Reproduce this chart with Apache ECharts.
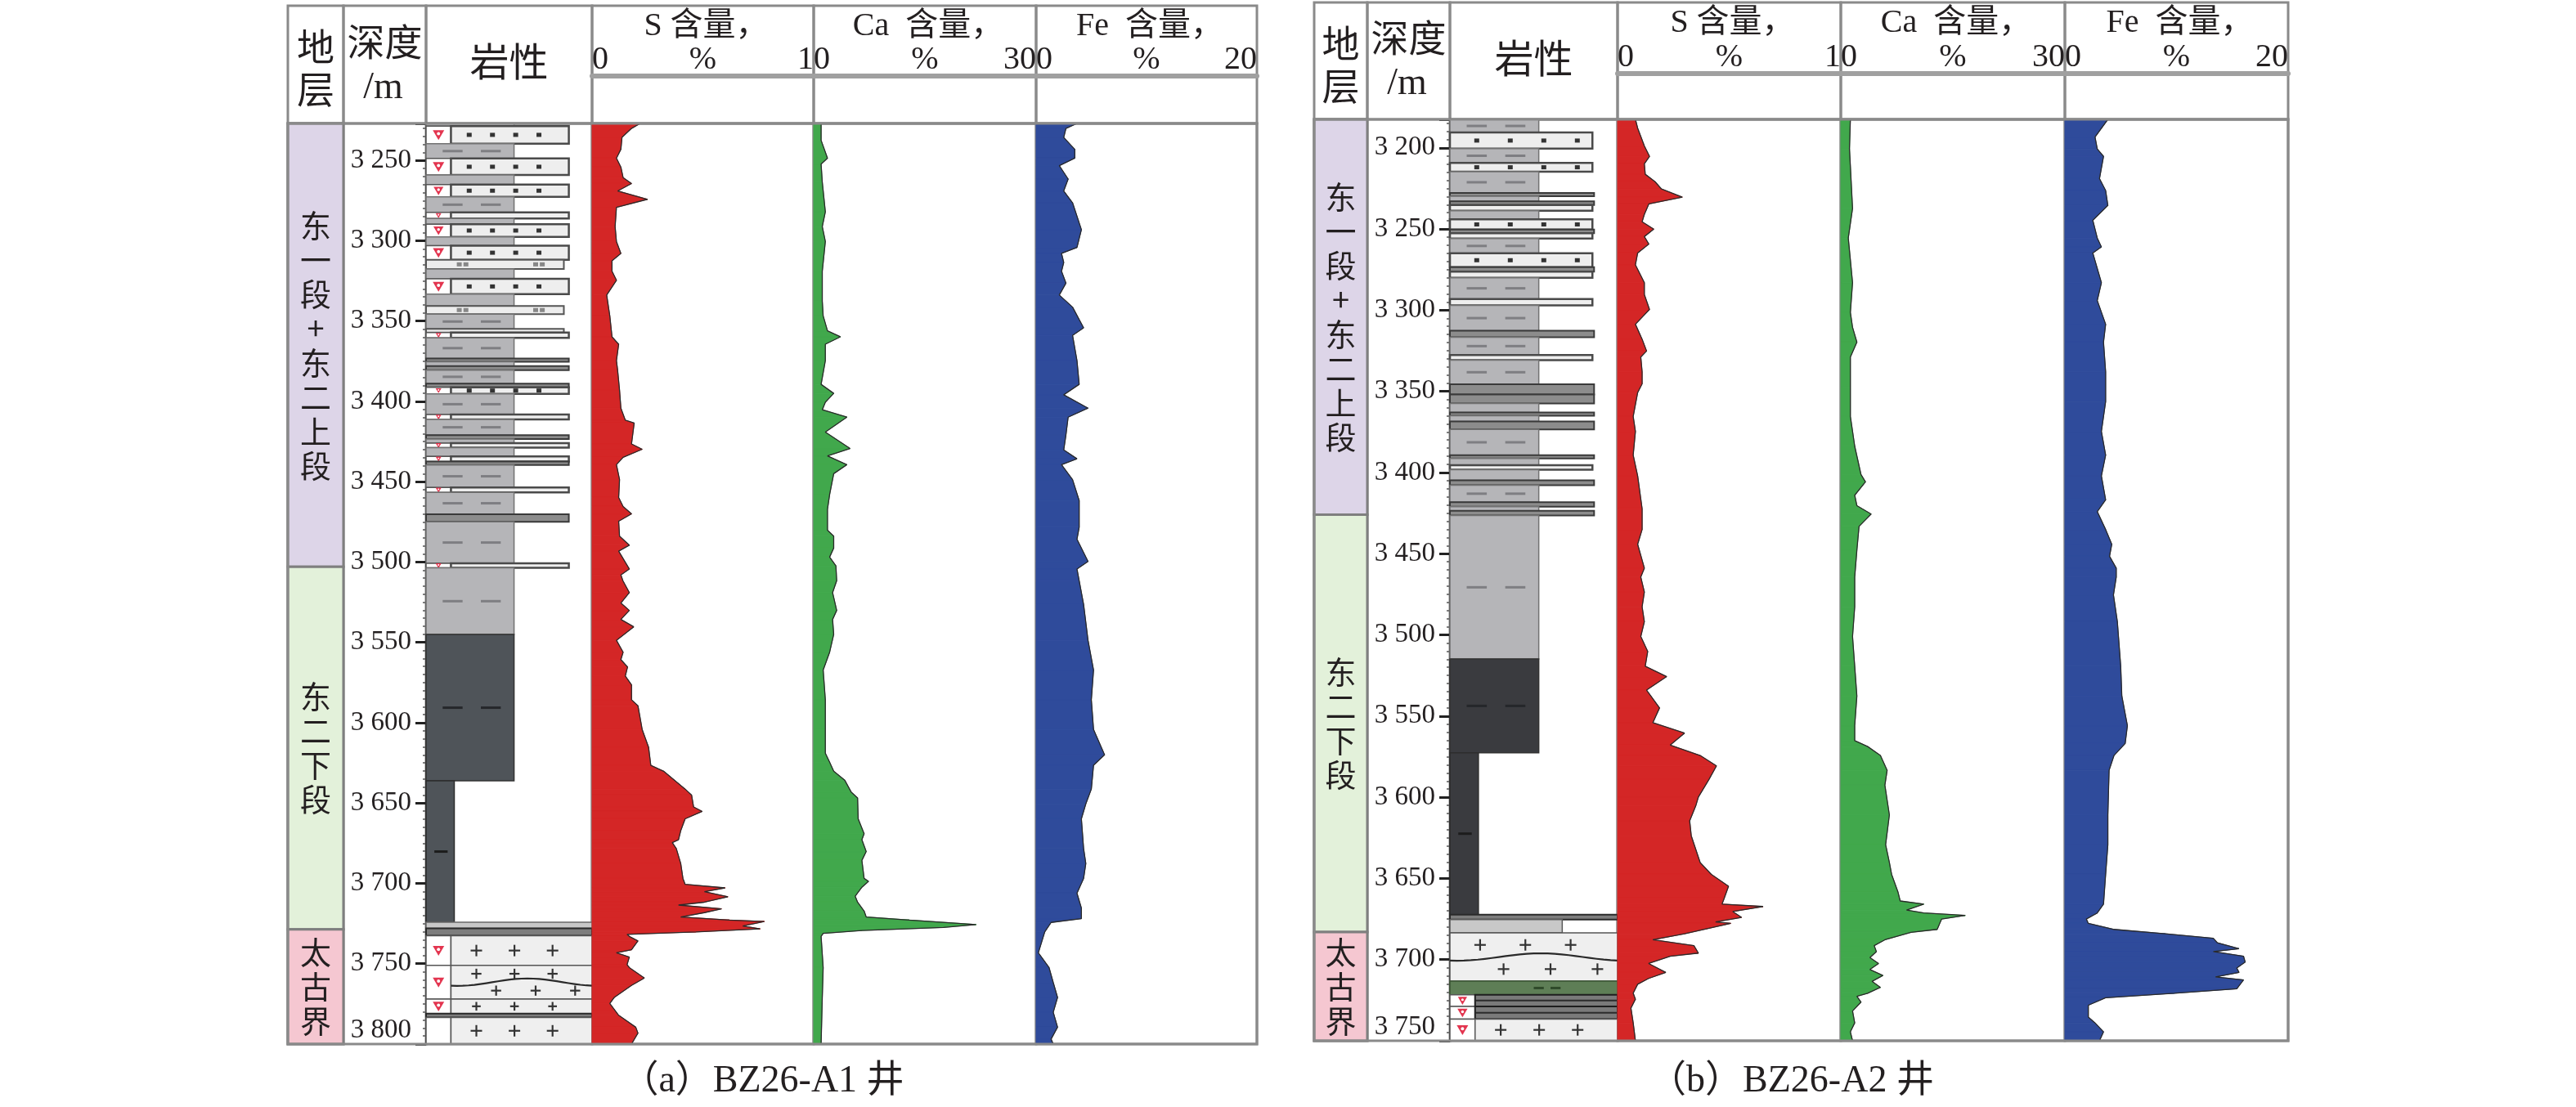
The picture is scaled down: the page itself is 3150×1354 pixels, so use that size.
<!DOCTYPE html>
<html><head><meta charset="utf-8">
<script src="https://cdn.jsdelivr.net/npm/echarts@6/dist/echarts.min.js"></script>
<style>html,body{margin:0;padding:0;background:#fff}#c{width:3150px;height:1354px}</style>
</head><body><div id="c"></div>
<script>
// ---------------- DATA ----------------
const CAPTIONS = ['（a）BZ26-A1 井', '（b）BZ26-A2 井'];
const HEAD_STRAT = '地\n层';
const HEAD_DEPTH = '深度';
const HEAD_UNIT = '/m';
const HEAD_LITHO = '岩性';
const CURVE_TITLES = ['S 含量，', 'Ca  含量，', 'Fe  含量，'];
const CURVE_MAX = [1, 30, 20];
const CURVE_UNIT = '%';

const A1_RANGE = [3227, 3800];
const A2_RANGE = [3182.5, 3750];

const A1_STRAT = [[3227, 3503, '东一段+东二上段'], [3503, 3728.6, '东二下段'], [3728.6, 3800, '太古界']];
const A2_STRAT = [[3182.5, 3426, '东一段+东二上段'], [3426, 3683, '东二下段'], [3683, 3750, '太古界']];

const A1_S_DEPTH = [3227,3230.1,3235.7,3243.1,3248.6,3254.2,3260.7,3264.4,3269,3274.2,3279.2,3291.2,3300.5,3307.9,3312.5,3319,3324.6,3333.8,3346.8,3359.8,3364.4,3374.6,3380.2,3393.1,3404.2,3411.7,3413.5,3426.5,3429.8,3434.8,3439.4,3448.7,3459.8,3465.4,3470,3474.6,3483.9,3489.5,3493.2,3504.3,3508,3511.6,3519,3525.5,3530.1,3535.7,3540.3,3548.7,3556.1,3560.7,3565.3,3570.9,3576.4,3585.7,3589.4,3604.2,3615.3,3626.5,3630.2,3641.3,3645,3652.4,3655.2,3659.8,3667.2,3672.8,3674.6,3678.3,3687.6,3696.9,3700.6,3702.8,3705.2,3708.3,3711.7,3713.5,3715.8,3718.2,3720.9,3722.8,3723.7,3726.5,3728.3,3730.2,3731.7,3733,3735.8,3741.3,3743.2,3745.9,3750.6,3752.4,3758.9,3763.5,3771,3774.7,3778.4,3782.1,3789.5,3793.2,3800];
const A1_S = [0.217,0.178,0.135,0.13,0.11,0.13,0.14,0.178,0.116,0.25,0.11,0.104,0.11,0.13,0.09,0.09,0.11,0.066,0.08,0.09,0.12,0.11,0.115,0.124,0.13,0.15,0.19,0.178,0.226,0.14,0.11,0.124,0.12,0.14,0.178,0.12,0.124,0.168,0.12,0.168,0.13,0.139,0.168,0.13,0.168,0.13,0.188,0.11,0.14,0.13,0.16,0.15,0.178,0.178,0.207,0.226,0.255,0.265,0.323,0.42,0.449,0.458,0.497,0.42,0.40,0.39,0.362,0.38,0.40,0.41,0.42,0.60,0.507,0.613,0.507,0.39,0.584,0.507,0.40,0.62,0.777,0.68,0.758,0.468,0.158,0.168,0.207,0.178,0.11,0.168,0.158,0.168,0.236,0.178,0.10,0.08,0.10,0.12,0.197,0.207,0.178];

const A1_CA_DEPTH = [3227,3237.5,3248.6,3252.3,3263.5,3282,3291.2,3300.5,3319,3337.6,3346.8,3356.1,3359.8,3364.4,3374.6,3389.4,3395,3400.5,3405.2,3409.8,3419.1,3429.3,3433.9,3439.4,3445,3458,3467.2,3480.2,3483.9,3491.3,3496.9,3502.4,3511.6,3519,3530.1,3535.7,3545,3556.1,3567.2,3585.7,3604.2,3619,3624.6,3630.2,3635.7,3643.1,3646.8,3659.8,3669.1,3672.8,3680.2,3685.7,3696.9,3698.7,3702.4,3708,3711.7,3717.2,3720.9,3722.8,3725.6,3727.4,3729.3,3731.1,3733,3752.4,3771,3800];
const A1_CA = [1.0,1.0,1.86,1.0,1.16,1.57,1.16,1.57,1.16,1.16,1.28,1.86,3.6,1.57,1.57,1.0,2.7,1.57,1.16,4.47,1.57,4.9,1.86,4.47,2.7,2.15,1.86,1.86,2.7,2.7,2.15,3.0,3.1,2.55,3.1,2.55,2.7,2.15,1.28,1.57,1.57,1.57,2.15,2.7,4.18,5.05,5.92,6.0,6.8,6.5,7.08,6.5,6.8,7.4,6.5,5.6,5.92,6.8,7.08,12.9,21.9,17.5,6.5,1.28,1.0,1.28,1.16,1.0];

const A1_FE_DEPTH = [3227,3230.1,3235.7,3243.1,3248.6,3253.3,3261.6,3269,3276.4,3293.1,3304.2,3307.9,3313.5,3319,3326.4,3333.8,3341.3,3354.2,3358.9,3374.6,3389.4,3395.9,3404.2,3409.8,3420.9,3430.2,3435.7,3439.4,3448.7,3461.7,3478.3,3485.8,3499.6,3504.3,3511.6,3526.4,3548.7,3567.2,3585.7,3604.2,3620,3626.5,3641.3,3650.5,3659.8,3678.3,3687.6,3696.9,3706.1,3715.4,3721.9,3724.3,3730.2,3743.2,3752.4,3761.7,3771,3780.2,3789.5,3796.9,3800];
const A1_FE = [3.7,2.7,2.5,3.5,3.5,2.1,2.9,2.5,3.3,4.1,3.7,2.3,2.5,2.3,2.7,2.1,3.3,4.3,3.3,3.7,3.9,2.5,4.7,2.9,2.7,2.5,3.7,2.3,3.3,3.9,3.9,3.7,4.7,3.7,3.9,4.3,4.7,5.2,5.0,5.2,6.2,5.2,5.0,4.5,4.1,4.3,4.5,4.3,3.7,4.1,4.1,1.36,0.78,0.2,1.17,1.55,1.94,1.55,1.94,1.36,1.55];

const A2_S_DEPTH = [3182.5,3187.9,3198.9,3205.3,3209.9,3216.3,3220.9,3225.4,3230.4,3234.6,3241,3245.6,3250.1,3254.7,3259.3,3264.8,3272.1,3283.1,3290.4,3299.6,3308.7,3317.9,3325.2,3328.9,3338,3345.4,3350.8,3365.5,3374.7,3389.3,3402.1,3422.3,3435.1,3444.2,3458.9,3464.4,3473.6,3482.7,3491.9,3501,3510.2,3519.3,3525.7,3534,3545,3554.1,3560.5,3567.9,3574.3,3580.7,3588.9,3599.9,3605.4,3614.5,3623.7,3640.2,3647.5,3654.8,3662.1,3665.8,3667.3,3670.4,3674,3676.8,3677.7,3684.1,3687.8,3691.4,3696,3697.9,3702.4,3707.9,3711.6,3715.2,3720.7,3724.4,3729.9,3739,3750];
const A2_S = [0.08,0.09,0.12,0.143,0.12,0.124,0.168,0.197,0.29,0.14,0.12,0.11,0.162,0.12,0.14,0.09,0.08,0.12,0.12,0.143,0.08,0.11,0.13,0.104,0.11,0.11,0.09,0.07,0.08,0.07,0.09,0.11,0.11,0.09,0.12,0.104,0.12,0.11,0.12,0.104,0.135,0.124,0.22,0.13,0.188,0.158,0.30,0.236,0.37,0.443,0.41,0.362,0.35,0.323,0.33,0.37,0.42,0.497,0.478,0.468,0.652,0.516,0.555,0.439,0.507,0.30,0.158,0.342,0.362,0.236,0.139,0.216,0.139,0.09,0.07,0.08,0.06,0.07,0.08];

const A2_CA_DEPTH = [3182.5,3200.7,3237.3,3255.6,3283.1,3301.4,3310.6,3319.7,3328.9,3347.2,3365.5,3383.8,3401.2,3405.8,3414,3420.4,3425.6,3433.2,3447.9,3464.4,3482.7,3501,3519.3,3537.6,3555.9,3565.1,3568.8,3574.3,3583.4,3592.6,3610.9,3629.2,3640.2,3647.5,3658.5,3663.9,3665.8,3669.5,3671.3,3672.8,3675,3681.4,3683.2,3687.8,3691.4,3695.1,3698.8,3702.4,3706.1,3709.8,3713.4,3717.1,3720.7,3722.6,3726.2,3731.7,3739,3744.5,3750];
const A2_CA = [1.28,1.16,1.57,1.0,1.57,1.28,1.57,2.15,1.28,1.28,1.28,1.86,2.7,3.3,1.86,2.15,4.06,2.44,2.15,1.86,1.86,1.57,1.86,2.15,1.86,1.86,3.6,5.3,6.2,5.9,6.5,6.0,6.5,6.8,7.66,7.95,11.1,8.8,11.1,16.66,13.5,12.9,9.4,5.9,4.47,4.76,3.9,5.05,3.9,5.63,4.18,5.3,3.6,2.15,2.7,1.57,1.86,1.28,1.57];

const A2_FE_DEPTH = [3182.5,3193.4,3200.7,3205.3,3219,3226.3,3235.5,3244.7,3255.6,3261.1,3264.8,3283.1,3294.1,3308.7,3319.7,3338,3356.3,3374.7,3389.3,3402.1,3416.8,3424.1,3435.1,3444.2,3451.6,3458.9,3464.4,3475.4,3491.9,3519.3,3537.6,3555.9,3566.9,3574.3,3583.4,3610.9,3629.2,3647.5,3665.8,3671.3,3675,3677.7,3681.4,3684.1,3686.9,3689.6,3693.3,3695.1,3697.9,3701.5,3705.2,3707.9,3710.7,3712.5,3718,3720.7,3723.5,3728.1,3735.4,3739,3744.5,3750];
const A2_FE = [3.85,2.7,2.9,3.46,3.1,3.65,3.85,2.5,2.9,3.27,2.5,3.27,2.9,3.65,3.46,3.65,3.65,3.27,3.65,3.27,3.65,2.9,3.65,4.2,4.0,4.6,4.6,4.35,4.7,5.0,5.1,5.6,5.4,4.4,3.96,3.85,3.85,3.65,3.46,2.9,1.92,2.1,4.4,9.0,13.3,13.65,15.6,13.3,16.0,16.15,15.4,15.6,13.5,16.0,15.4,9.8,3.65,2.1,2.1,2.7,3.46,3.1];

const A1_LITHO = [
[3227,3228.6,'mud'],[3228.6,3239.6,'sandO'],[3239.6,3248.8,'mud'],[3248.8,3259.1,'sandO'],[3259.1,3265,'mud'],
[3265,3272.7,'sandO'],[3272.7,3282.4,'mud'],[3282.4,3286.1,'sandO'],[3286.1,3289.7,'mud'],[3289.7,3297.6,'sandO'],
[3297.6,3303.1,'mud'],[3303.1,3311.8,'sandO'],[3311.8,3317.6,'silt'],[3317.6,3323.7,'mud'],[3323.7,3333.2,'sandO'],
[3333.2,3340.6,'mud'],[3340.6,3345.7,'silt'],[3345.7,3354.9,'mud'],[3354.9,3357.2,'silt'],[3357.2,3360.4,'sandO'],
[3360.4,3373.3,'mud'],[3373.3,3375.3,'dline'],[3375.3,3378,'mud'],[3378,3380.5,'dline'],[3380.5,3388.9,'mud'],
[3388.9,3391.2,'dline'],[3391.2,3395.3,'sandO'],[3395.3,3408.2,'mud'],[3408.2,3411.2,'sandO'],[3411.2,3421,'mud'],
[3421,3423.4,'dline'],[3423.4,3426,'mud'],[3426,3428.8,'sandO'],[3428.8,3434.2,'mud'],[3434.2,3437.4,'sandO'],
[3437.4,3439.6,'dline'],[3439.6,3453.6,'mud'],[3453.6,3456.6,'sandO'],[3456.6,3470.2,'mud'],[3470.2,3474.9,'dline'],
[3474.9,3500.8,'mud'],[3500.8,3503.6,'sandO'],[3503.6,3545.1,'mud'],[3545.1,3636.2,'dmud'],[3636.2,3724.2,'dnar'],
[3724.2,3728,'gline'],[3728,3732.6,'dlineF'],[3732.6,3751,'granO'],[3751,3772,'granO'],[3772,3781,'granO'],
[3781,3783.5,'dlineF'],[3783.5,3800,'granS']
];
const A2_LITHO = [
[3182.5,3190.6,'mud'],[3190.6,3200.5,'sand'],[3200.5,3209.3,'mud'],[3209.3,3214.7,'sand'],[3214.7,3227.8,'mud'],
[3227.8,3229.8,'dline'],[3229.8,3233,'mud'],[3233,3235.3,'dline'],[3235.3,3238.8,'sand'],[3238.8,3244,'mud'],
[3244,3250.4,'sand'],[3250.4,3252.6,'dline'],[3252.6,3255.9,'sand'],[3255.9,3265,'mud'],[3265,3273.5,'sand'],
[3273.5,3276.3,'dline'],[3276.3,3280,'sand'],[3280,3293.1,'mud'],[3293.1,3297.1,'sand'],[3297.1,3312.7,'mud'],
[3312.7,3316.7,'dline'],[3316.7,3327.6,'mud'],[3327.6,3330.8,'sand'],[3330.8,3345.7,'mud'],[3345.7,3352,'dline'],
[3352,3357.5,'dline'],[3357.5,3363,'mud'],[3363,3365,'dline'],[3365,3368.5,'mud'],[3368.5,3373.5,'dline'],
[3373.5,3389.3,'mud'],[3389.3,3391.3,'dline'],[3391.3,3395.5,'mud'],[3395.5,3398.3,'sand'],[3398.3,3404.8,'mud'],
[3404.8,3407.8,'dline'],[3407.8,3418.3,'mud'],[3418.3,3421,'dline'],[3421,3423.6,'mud'],[3423.6,3426.5,'dline'],
[3426.5,3514.9,'mud'],[3514.9,3572.6,'dmud'],[3572.6,3672.3,'dnar'],[3672.3,3675.3,'dlineF'],[3675.3,3683.5,'gshort'],
[3683.5,3713.3,'gran'],[3713.3,3721.7,'green'],[3721.7,3728.8,'dlineO'],[3728.8,3736.6,'dlineO'],[3736.6,3750,'granO']
];

// ---------------- STYLE / LAYOUT ----------------
const SERIF = "'Liberation Serif','Noto Sans CJK SC',serif";
const CJK = "'Noto Sans CJK SC',sans-serif";
const TXT = '#231f20';
const FRAME = '#8a8a8a';
const STRAT_COLORS = {'东一段+东二上段':'#ddd5e8','东二下段':'#e3f1da','太古界':'#f5c7d1'};
const CURVE_COLORS = ['#d42626', '#41a84c', '#2f4b9b'];

const PANELS = [
  {cols:[352,420,521,724,995,1267,1537], top:7, hb:151, bottom:1277, bar:93, range:A1_RANGE, strat:A1_STRAT, litho:A1_LITHO,
   curves:[[A1_S_DEPTH,A1_S],[A1_CA_DEPTH,A1_CA],[A1_FE_DEPTH,A1_FE]], dark:'#4f5459', caption:CAPTIONS[0]},
  {cols:[1607,1672,1773,1978,2251,2525,2798], top:3, hb:146, bottom:1273, bar:90, range:A2_RANGE, strat:A2_STRAT, litho:A2_LITHO,
   curves:[[A2_S_DEPTH,A2_S],[A2_CA_DEPTH,A2_CA],[A2_FE_DEPTH,A2_FE]], dark:'#3a3b3f', caption:CAPTIONS[1]}
];

function fmtDepth(v){ if (Math.abs(v % 50) > 1e-6) return ''; const s = String(Math.round(v)); return s.slice(0,1) + ' ' + s.slice(1); }

function oilSymbol(cx, cy, s){
  return [
    {type:'polygon', shape:{points:[[cx-s,cy-s*0.8],[cx+s,cy-s*0.8],[cx,cy+s*0.9]]}, style:{fill:'#e3354f'}},
    {type:'circle', shape:{cx:cx, cy:cy-s*0.2, r:s*0.28}, style:{fill:'#ffffff'}}
  ];
}

function lithoRender(layers, dark){
  return function(params, api){
    const L = layers[params.dataIndex];
    const t = L[2];
    const p0 = api.coord([0, api.value(0)]);
    const p1 = api.coord([1, api.value(1)]);
    const X = f => p0[0] + (p1[0]-p0[0]) * f;
    const y0 = p0[1], y1 = p1[1], h = y1 - y0, ym = (y0 + y1) / 2;
    const ch = [];
    const rect = (f0, f1, fill, stroke, lw) => ch.push({type:'rect', shape:{x:X(f0), y:y0, width:X(f1)-X(f0), height:h}, style:{fill:fill, stroke:stroke, lineWidth:lw}});
    const dash = (f0, f1, color, lw) => ch.push({type:'line', shape:{x1:X(f0), y1:ym, x2:X(f1), y2:ym}, style:{stroke:color, lineWidth:lw}});
    const dots = (fs, color) => { if (h < 8) return; fs.forEach(f => ch.push({type:'rect', shape:{x:X(f)-3, y:ym-2.5, width:6, height:5}, style:{fill:color}})); };
    const subcol = (sym) => { rect(0, 0.15, '#ffffff', '#555', 1.5); if (sym) oilSymbol(X(0.075), ym, Math.min(7, Math.max(3.5, h*0.4))).forEach(e => ch.push(e)); };
    const granite = (f0, waves) => {
      rect(f0, 1, '#efefef', '#555', 1.5);
      const xa = X(f0), xb = X(1), w = xb - xa;
      const n = Math.max(1, Math.round(h / 26));
      const sp = h / n;
      for (let k = 0; k < n; k++) {
        if (waves && k > 0) {
          const yl = y0 + k * sp, pts = [];
          for (let j = 0; j <= 24; j++) { const x = xa + w * j / 24; pts.push([x, yl + 4.5 * Math.sin(2 * Math.PI * j / 24 + k * 1.3)]); }
          ch.push({type:'polyline', shape:{points:pts}, style:{stroke:'#2a2a2a', lineWidth:2.2, fill:null}});
        }
        const yc = y0 + (k + 0.5) * sp;
        const fr = (k % 2 === 0) ? [0.18, 0.45, 0.72] : [0.32, 0.6, 0.88];
        const cs = Math.min(7, sp * 0.3);
        fr.forEach(f => {
          const cx = xa + w * f;
          ch.push({type:'line', shape:{x1:cx-cs, y1:yc, x2:cx+cs, y2:yc}, style:{stroke:'#333', lineWidth:2.2}});
          ch.push({type:'line', shape:{x1:cx, y1:yc-cs, x2:cx, y2:yc+cs}, style:{stroke:'#333', lineWidth:2.2}});
        });
      }
    };
    switch (t) {
      case 'mud':
        rect(0, 0.53, '#b5b5b8', '#727272', 1.5);
        if (h > 15) { dash(0.10, 0.22, '#7e7e82', 3); dash(0.33, 0.45, '#7e7e82', 3); }
        break;
      case 'dmud':
        rect(0, 0.53, dark, '#333', 1.5);
        dash(0.10, 0.22, '#25272a', 3); dash(0.33, 0.45, '#25272a', 3);
        break;
      case 'dnar':
        rect(0, 0.17, dark, '#2d2d2d', 1.5);
        dash(0.05, 0.13, '#1c1c1c', 3);
        break;
      case 'sandO':
        subcol(true);
        rect(0.15, 0.86, '#eeeeee', '#4a4a4a', 2.5);
        dots([0.26, 0.40, 0.54, 0.68], '#333');
        break;
      case 'sand':
        rect(0, 0.85, '#eeeeee', '#4a4a4a', 2.5);
        dots([0.16, 0.36, 0.56, 0.76], '#333');
        break;
      case 'silt':
        rect(0, 0.83, '#ededed', '#555', 2);
        dots([0.20, 0.24, 0.66, 0.70], '#888');
        break;
      case 'dline':
        rect(0, 0.86, '#8c8c8c', '#3a3a3a', 2);
        break;
      case 'dlineF':
        rect(0, 1, '#7d7d7d', '#2a2a2a', 2);
        break;
      case 'dlineO':
        subcol(true);
        rect(0.15, 1, '#7a7a7a', '#1e1e1e', 2);
        dash(0.15, 1, '#2b2b2b', 2);
        break;
      case 'gline':
        rect(0, 1, '#c8c8c8', '#6a6a6a', 1.5);
        break;
      case 'gshort':
        rect(0, 0.67, '#c8c8c8', '#5a5a5a', 1.5);
        break;
      case 'gran':
        granite(0, true);
        break;
      case 'granO':
        subcol(true); granite(0.15, true);
        break;
      case 'granS':
        subcol(false); granite(0.15, false);
        break;
      case 'green':
        rect(0, 1, '#5e7e56', '#3b5535', 1.5);
        dash(0.5, 0.56, '#2f4a2a', 3); dash(0.6, 0.66, '#2f4a2a', 3);
        break;
    }
    return {type:'group', children:ch};
  };
}

function stratRender(list){
  return function(params, api){
    const s = list[params.dataIndex];
    const p0 = api.coord([0, api.value(0)]);
    const p1 = api.coord([1, api.value(1)]);
    return {type:'group', children:[
      {type:'rect', shape:{x:p0[0], y:p0[1], width:p1[0]-p0[0], height:p1[1]-p0[1]}, style:{fill:STRAT_COLORS[s[2]], stroke:'#7f7f7f', lineWidth:3}},
      {type:'text', style:{text:s[2].split('').join('\n'), x:(p0[0]+p1[0])/2, y:(p0[1]+p1[1])/2, align:'center', verticalAlign:'middle', fontSize:38, fontFamily:CJK, lineHeight:42, fill:TXT}}
    ]};
  };
}

function fillRender(depths, vals, color){
  return function(params, api){
    const i = params.dataIndex;
    if (i >= depths.length - 1) return null;
    const a = api.coord([0, depths[i]]), b = api.coord([vals[i], depths[i]]);
    const c = api.coord([vals[i+1], depths[i+1]]), d = api.coord([0, depths[i+1]]);
    return {type:'polygon', shape:{points:[a,b,c,d]}, style:{fill:color, stroke:color, lineWidth:1}};
  };
}

// ---------------- BUILD ----------------
const option = {animation:false, backgroundColor:'#ffffff', grid:[], xAxis:[], yAxis:[], series:[], graphic:[]};

PANELS.forEach(P => {
  const c = P.cols;
  const g0 = option.grid.length;
  for (let k = 0; k < 5; k++) {
    const l = k === 0 ? c[0] : c[k+1];
    const r = k === 0 ? c[1] : c[k+2];
    option.grid.push({left:l, top:P.hb, width:r-l, height:P.bottom-P.hb, show:true, borderColor:FRAME, borderWidth:3,
      backgroundColor:'rgba(0,0,0,0)', containLabel:false, outerBoundsMode:'none'});
    // x axes
    if (k < 2) {
      option.xAxis.push({gridIndex:g0+k, type:'value', min:0, max:1, show:false});
    } else {
      const mx = CURVE_MAX[k-2];
      option.xAxis.push({gridIndex:g0+k, type:'value', min:0, max:mx, interval:mx, position:'top', offset:P.hb-P.bar,
        axisLine:{show:true, lineStyle:{color:'#a0a0a0', width:6}}, axisTick:{show:false}, splitLine:{show:false},
        axisLabel:{show:true, margin:0, fontSize:40, fontFamily:SERIF, color:TXT, alignMinLabel:'left', alignMaxLabel:'right'},
        name:CURVE_UNIT, nameLocation:'middle', nameGap:0, nameMoveOverlap:false,
        nameTextStyle:{fontSize:40, fontFamily:SERIF, color:TXT}});
    }
    // y axes
    const y = {gridIndex:g0+k, type:'value', inverse:true, min:P.range[0], max:P.range[1], splitNumber:11, splitLine:{show:false}};
    if (k === 1) {
      Object.assign(y, {show:true, position:'left',
        axisLine:{show:true, onZero:false, lineStyle:{color:'#3a3a3a', width:3}},
        axisTick:{show:true, inside:false, length:13, lineStyle:{color:'#222', width:3}},
        minorTick:{show:true, splitNumber:10, length:4, lineStyle:{color:'#555', width:1.5}},
        axisLabel:{show:true, margin:18, fontSize:33, fontFamily:SERIF, color:TXT, formatter:fmtDepth,
          showMinLabel:false, verticalAlignMaxLabel:'bottom'}});
    } else {
      y.show = false;
    }
    option.yAxis.push(y);
  }
  // series
  option.series.push({type:'custom', coordinateSystem:'cartesian2d', xAxisIndex:g0, yAxisIndex:g0,
    data:P.strat.map(s => [s[0], s[1]]), encode:{x:-1, y:[0,1]}, renderItem:stratRender(P.strat), silent:true});
  option.series.push({type:'custom', coordinateSystem:'cartesian2d', xAxisIndex:g0+1, yAxisIndex:g0+1,
    data:P.litho.map(s => [s[0], s[1]]), encode:{x:-1, y:[0,1]}, renderItem:lithoRender(P.litho, P.dark), silent:true});
  P.curves.forEach((cv, j) => {
    const depths = cv[0], vals = cv[1];
    const pts = depths.map((d, i) => [vals[i], d]);
    option.series.push({type:'custom', coordinateSystem:'cartesian2d', xAxisIndex:g0+2+j, yAxisIndex:g0+2+j,
      data:pts, renderItem:fillRender(depths, vals, CURVE_COLORS[j]), silent:true, z:2});
    option.series.push({type:'line', xAxisIndex:g0+2+j, yAxisIndex:g0+2+j, data:pts, symbol:'none', silent:true, z:3,
      lineStyle:{color:'#2a2a2a', width:1.3}});
  });

  // header frame cells
  for (let i = 0; i < 6; i++) {
    option.graphic.push({type:'rect', shape:{x:c[i], y:P.top, width:c[i+1]-c[i], height:P.hb-P.top},
      style:{fill:'none', stroke:FRAME, lineWidth:3}, silent:true});
  }
  option.graphic.push({type:'rect', shape:{x:c[0], y:P.hb, width:c[6]-c[0], height:P.bottom-P.hb},
    style:{fill:'none', stroke:FRAME, lineWidth:3}, silent:true, z:10});
  const hm = (P.top + P.hb) / 2, hh = P.hb - P.top;
  const T = (text, x, y, size, fam) => option.graphic.push({type:'text', x:x, y:y, silent:true,
    style:{text:text, align:'center', verticalAlign:'middle', fontSize:size, fontFamily:fam, fill:TXT, lineHeight:size+6}});
  T(HEAD_STRAT, (c[0]+c[1])/2, hm + 4, 46, CJK);
  T(HEAD_DEPTH, (c[1]+c[2])/2, P.top + 0.30*hh, 46, CJK);
  T(HEAD_UNIT, (c[1]+c[2])/2 - 2, P.top + 0.70*hh, 46, SERIF);
  T(HEAD_LITHO, (c[2]+c[3])/2, hm - 4, 48, CJK);
  for (let j = 0; j < 3; j++) T(CURVE_TITLES[j], (c[j+3]+c[j+4])/2 + 4, P.top + 25, 40, SERIF);
  T(P.caption, (c[0]+c[6])/2 - 12, 1323, 46, SERIF);
});

const chart = echarts.init(document.getElementById('c'), null, {renderer:'canvas'});
chart.setOption(option);
</script></body></html>
